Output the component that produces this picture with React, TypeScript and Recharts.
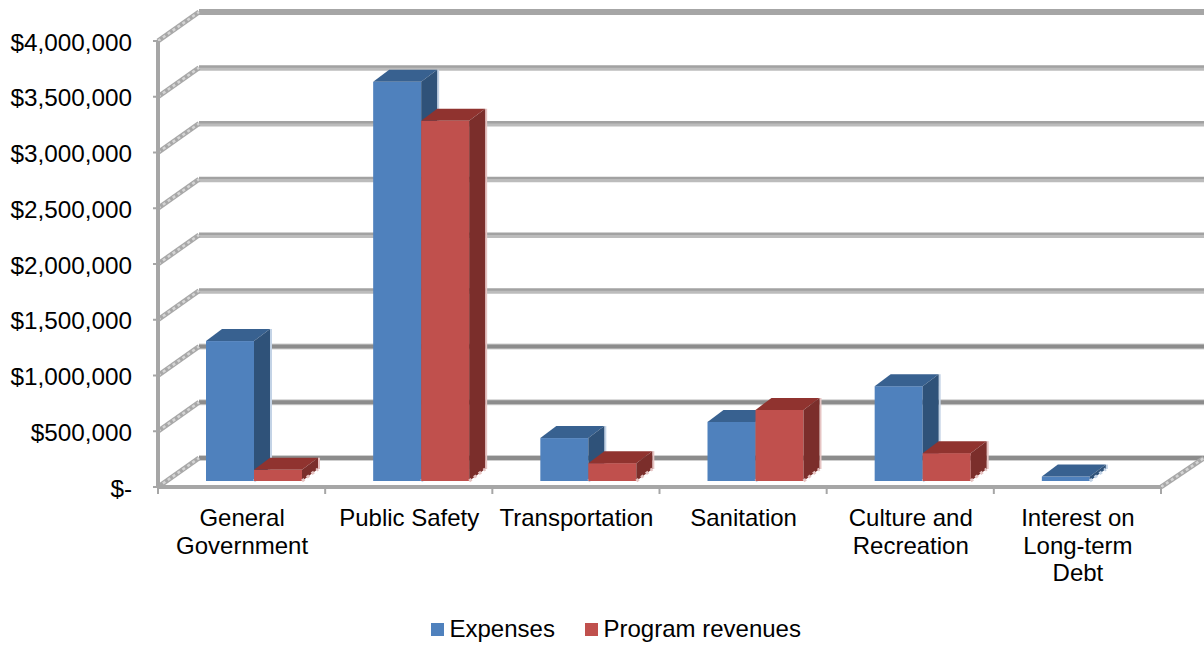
import React from 'react';
import { BarChart, Bar, XAxis, YAxis, CartesianGrid, Legend } from 'recharts';

const categories = [
  'General\nGovernment',
  'Public Safety',
  'Transportation',
  'Sanitation',
  'Culture and\nRecreation',
  'Interest on\nLong-term\nDebt',
];
const expenses = [1255000, 3580000, 385000, 530000, 850000, 40000];
const programRevenues = [100000, 3230000, 160000, 637000, 250000, 0];
const yTicks = [0, 500000, 1000000, 1500000, 2000000, 2500000, 3000000, 3500000, 4000000];

const data = categories.map((name, i) => ({
  name,
  expenses: expenses[i],
  revenues: programRevenues[i],
}));

const FONT = '"Liberation Sans", Arial, sans-serif';
const WALL_DX = 41;
const WALL_DY = 29;
const FLOOR_Y = 487;
const AXIS_GRAY = '#a6a6a6';
const BAND = 1003 / categories.length;

const BLUE = { front: '#4f81bd', top: '#386190', side: '#2f5279', edge: '#c3d3e6' };
const RED = { front: '#c0504d', top: '#90332f', side: '#7b2e2b', edge: '#e6c4c3' };

// 3D look: front face, top and side, moved onto the middle of the floor
function Box3D({ x, y, width, height, colors }: any) {
  if (!height || height <= 0) return null;
  const dx = 16;
  const dy = 12;
  const l = x + 12;
  const r = l + width;
  const t = y - 6;
  const b = t + height;
  return (
    <g>
      <line x1={r + dx + 1} y1={t - dy} x2={r + dx + 1} y2={b - dy} stroke={colors.edge} strokeWidth={2} />
      <rect x={l} y={t} width={width} height={height} fill={colors.front} />
      <polygon points={`${l},${t} ${l + dx},${t - dy} ${r + dx},${t - dy} ${r},${t}`} fill={colors.top} />
      <polygon points={`${r},${t} ${r + dx},${t - dy} ${r + dx},${b - dy} ${r},${b}`} fill={colors.side} />
      <line x1={r} y1={b} x2={r + dx} y2={b - dy} stroke={colors.edge} strokeWidth={3} strokeDasharray="3 3" />
    </g>
  );
}

function SideWall({ x1, y1, x2, y2 }: any) {
  return (
    <g>
      <line x1={x1} y1={y1} x2={x2} y2={y2} stroke="#a8a8a8" strokeWidth={5} />
      <line x1={x1} y1={y1} x2={x2} y2={y2} stroke="#d4d4d4" strokeWidth={2.5} strokeDasharray="3 3" />
    </g>
  );
}

function GridLine({ x1, y1, x2 }: any) {
  const bx = x1 + WALL_DX;
  const by = y1 - WALL_DY;
  const isFloor = Math.abs(y1 - FLOOR_Y) < 1;
  // the back lines render differently up and down the wall in the reference
  let back;
  if (by < 20) {
    back = <line x1={bx} y1={by} x2={1204} y2={by} stroke={AXIS_GRAY} strokeWidth={6} />;
  } else if (by < 300) {
    back = (
      <g>
        <line x1={bx} y1={by - 1} x2={1204} y2={by - 1} stroke="#a2a2a2" strokeWidth={3} />
        <line x1={bx} y1={by + 1.5} x2={1204} y2={by + 1.5} stroke="#bcbcbc" strokeWidth={3} />
      </g>
    );
  } else {
    back = (
      <g>
        <line x1={bx} y1={by} x2={1204} y2={by} stroke="#cfcfcf" strokeWidth={6} />
        <line x1={bx} y1={by} x2={1204} y2={by} stroke="#8c8c8c" strokeWidth={4} />
      </g>
    );
  }
  return (
    <g>
      {back}
      <SideWall x1={x1} y1={y1} x2={bx} y2={by} />
      {isFloor && <SideWall x1={x2} y1={y1} x2={1204} y2={by} />}
    </g>
  );
}

// tick marks sit on the category boundaries, labels in the middle
function CategoryTick({ x, y, payload, index }: any) {
  const lines = String(payload.value).split('\n');
  const axisY = FLOOR_Y;
  return (
    <g>
      <line x1={x - BAND / 2} y1={axisY} x2={x - BAND / 2} y2={axisY + 7} stroke={AXIS_GRAY} strokeWidth={2} />
      {index === categories.length - 1 && (
        <line x1={x + BAND / 2} y1={axisY} x2={x + BAND / 2} y2={axisY + 7} stroke={AXIS_GRAY} strokeWidth={2} />
      )}
      <text x={x} y={y} textAnchor="middle" fontFamily={FONT} fontSize={24} fill="#000">
        {lines.map((line, i) => (
          <tspan key={line} x={x + 0.5} y={axisY + 39 + i * 27.7}>
            {line}
          </tspan>
        ))}
      </text>
    </g>
  );
}

function formatMoney(v: number) {
  return v === 0 ? '$-' : '$' + v.toLocaleString('en-US');
}

function LegendRow() {
  const item = (color: string, label: string, width: number) => (
    <div style={{ display: 'flex', alignItems: 'center', width }}>
      <span style={{ width: 13, height: 13, background: color, marginRight: 5.5, display: 'inline-block' }} />
      <span style={{ fontFamily: FONT, fontSize: 24, color: '#000' }}>{label}</span>
    </div>
  );
  return (
    <div style={{ display: 'flex', position: 'absolute', left: 431, top: 612, width: 400, lineHeight: '34px' }}>
      {item(BLUE.front, 'Expenses', 154)}
      {item(RED.front, 'Program revenues', 240)}
    </div>
  );
}

export default function App() {
  return (
    <div style={{ position: 'absolute', left: 0, top: 0, width: 1204, height: 647, background: '#fff' }}>
      <BarChart
        width={1204}
        height={647}
        data={data}
        barGap={0}
        margin={{ top: 41, right: 43, bottom: 0, left: 0 }}
      >
        <CartesianGrid vertical={false} horizontal={(props: any) => <GridLine {...props} />} />
        <XAxis
          dataKey="name"
          height={160}
          interval={0}
          tick={<CategoryTick />}
          tickLine={false}
          axisLine={{ stroke: AXIS_GRAY, strokeWidth: 4 }}
        />
        <YAxis
          width={158}
          domain={[0, 4000000]}
          ticks={yTicks}
          tickFormatter={formatMoney}
          tick={{ fontFamily: FONT, fontSize: 24.3, fill: '#000', dy: 1 }}
          tickSize={5}
          tickMargin={21}
          tickLine={{ stroke: AXIS_GRAY, strokeWidth: 2 }}
          axisLine={{ stroke: AXIS_GRAY, strokeWidth: 4 }}
        />
        <Bar
          dataKey="expenses"
          name="Expenses"
          barSize={48}
          fill={BLUE.front}
          isAnimationActive={false}
          shape={(props: any) => <Box3D {...props} colors={BLUE} />}
        />
        <Bar
          dataKey="revenues"
          name="Program revenues"
          barSize={48}
          fill={RED.front}
          isAnimationActive={false}
          shape={(props: any) => <Box3D {...props} colors={RED} />}
        />
        <Legend
          wrapperStyle={{ position: 'absolute', left: 0, top: 0, bottom: 'auto', width: 0, height: 0 }}
          content={() => <LegendRow />}
        />
      </BarChart>
    </div>
  );
}
